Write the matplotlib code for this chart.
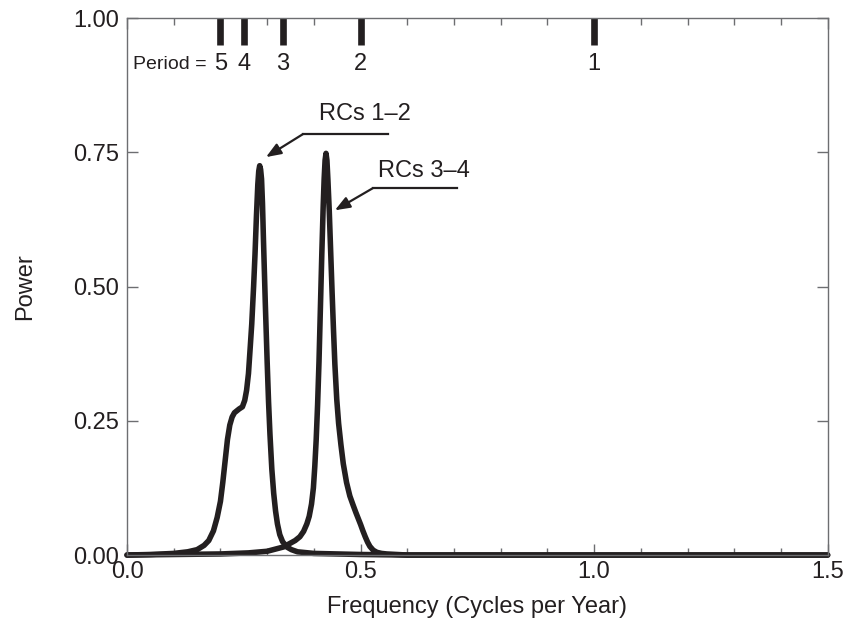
import matplotlib
matplotlib.use("Agg")
import matplotlib.pyplot as plt
from matplotlib.ticker import MultipleLocator

plt.rcParams['font.family'] = ['Liberation Sans', 'DejaVu Sans']

INK = '#231f20'

# spectrum of RCs 1-2
freq_12 = [0.0, 0.05, 0.10, 0.13, 0.15, 0.165, 0.175, 0.185, 0.193, 0.20,
           0.205, 0.21, 0.215, 0.22, 0.225, 0.23, 0.24, 0.247, 0.252, 0.256,
           0.26, 0.264, 0.267, 0.271, 0.274, 0.277, 0.280, 0.282, 0.284,
           0.286, 0.288, 0.290, 0.292, 0.294, 0.296, 0.298, 0.300, 0.303,
           0.306, 0.310, 0.314, 0.318, 0.322, 0.327, 0.333, 0.342, 0.352,
           0.365, 0.40, 0.5, 0.6, 1.5]
power_12 = [0.0, 0.001, 0.003, 0.006, 0.010, 0.018, 0.027, 0.045, 0.070, 0.100,
            0.135, 0.175, 0.215, 0.242, 0.257, 0.265, 0.272, 0.276, 0.288,
            0.307, 0.338, 0.390, 0.430, 0.500, 0.560, 0.630, 0.690, 0.715,
            0.725, 0.718, 0.700, 0.655, 0.590, 0.530, 0.470, 0.415, 0.360,
            0.285, 0.225, 0.160, 0.115, 0.082, 0.058, 0.038, 0.025, 0.015,
            0.010, 0.006, 0.003, 0.001, 0.0, 0.0]

# spectrum of RCs 3-4
freq_34 = [0.0, 0.10, 0.20, 0.26, 0.30, 0.335, 0.36, 0.37, 0.378, 0.385,
           0.390, 0.395, 0.399, 0.402, 0.405, 0.408, 0.411, 0.414, 0.417,
           0.420, 0.422, 0.424, 0.426, 0.428, 0.430, 0.433, 0.436, 0.439,
           0.442, 0.445, 0.449, 0.453, 0.458, 0.463, 0.470, 0.477, 0.484,
           0.490, 0.495, 0.500, 0.505, 0.510, 0.515, 0.520, 0.527, 0.535,
           0.545, 0.556, 0.60, 1.5]
power_34 = [0.0, 0.001, 0.002, 0.004, 0.007, 0.015, 0.027, 0.034, 0.044, 0.058,
            0.072, 0.095, 0.125, 0.165, 0.215, 0.280, 0.360, 0.460, 0.560,
            0.650, 0.700, 0.735, 0.748, 0.735, 0.700, 0.640, 0.565, 0.490,
            0.420, 0.355, 0.290, 0.245, 0.205, 0.170, 0.135, 0.110, 0.093,
            0.079, 0.068, 0.057, 0.045, 0.034, 0.024, 0.016, 0.009, 0.005,
            0.003, 0.002, 0.0, 0.0]

periods = [5, 4, 3, 2, 1]

# labels: text, text pos, arrow tip, elbow, line end
labels = ['RCs 1\u20132', 'RCs 3\u20134']
label_xy = [(0.509, 0.821), (0.636, 0.715)]
tip_xy = [(0.2975, 0.741), (0.445, 0.642)]
elbow_xy = [(0.377, 0.784), (0.526, 0.683)]
end_xy = [(0.559, 0.784), (0.706, 0.683)]

fig = plt.figure(figsize=(8.48, 6.30), dpi=100)
ax = fig.add_axes([0.1498, 0.119, 0.8262, 0.8524])

ax.plot(freq_12, power_12, color=INK, lw=4.0, clip_on=False,
        solid_joinstyle='round', solid_capstyle='round')
ax.plot(freq_34, power_34, color=INK, lw=4.0, clip_on=False,
        solid_joinstyle='round', solid_capstyle='round')

# period marks along the top
pfreq = [1.0 / p for p in periods]
ax.vlines(pfreq, 0.95, 1.0, color=INK, lw=4.8, capstyle='butt')
for f, p in zip(pfreq, periods):
    ax.text(f, 0.915, str(p), ha='center', va='center', fontsize=17, color=INK)
ax.text(0.171, 0.913, 'Period =', ha='right', va='center', fontsize=14, color=INK)

for lab, lxy, t, e, n in zip(labels, label_xy, tip_xy, elbow_xy, end_xy):
    ax.plot([e[0], n[0]], [e[1], n[1]], color=INK, lw=1.6)
    ax.annotate('', xy=t, xytext=e,
                arrowprops=dict(arrowstyle='-|>,head_length=0.9,head_width=0.35',
                                color=INK, lw=1.6, shrinkA=0, shrinkB=0))
    ax.text(lxy[0], lxy[1], lab, ha='center', va='center', fontsize=17, color=INK)

ax.set_xlim(0, 1.5)
ax.set_ylim(0, 1.0)
ax.xaxis.set_major_locator(MultipleLocator(0.5))
ax.xaxis.set_minor_locator(MultipleLocator(0.1))
ax.yaxis.set_major_locator(MultipleLocator(0.25))
ax.xaxis.set_major_formatter(plt.FuncFormatter(lambda v, _: f'{v:.1f}'))
ax.yaxis.set_major_formatter(plt.FuncFormatter(lambda v, _: f'{v:.2f}'))

ax.tick_params(which='both', direction='in', top=True, right=True,
               colors='#6d6e71', labelcolor=INK, labelsize=17)
ax.tick_params(which='major', length=8, width=1)
ax.tick_params(which='minor', length=5, width=1)
ax.tick_params(axis='y', pad=6)
ax.tick_params(axis='x', pad=4)
for s in ax.spines.values():
    s.set_color('#6d6e71')
    s.set_linewidth(1.0)

ax.set_xlabel('Frequency (Cycles per Year)', fontsize=17, color=INK, labelpad=10)
ax.set_ylabel('Power', fontsize=17, color=INK, labelpad=26)

fig.savefig('out.png', dpi=100)
